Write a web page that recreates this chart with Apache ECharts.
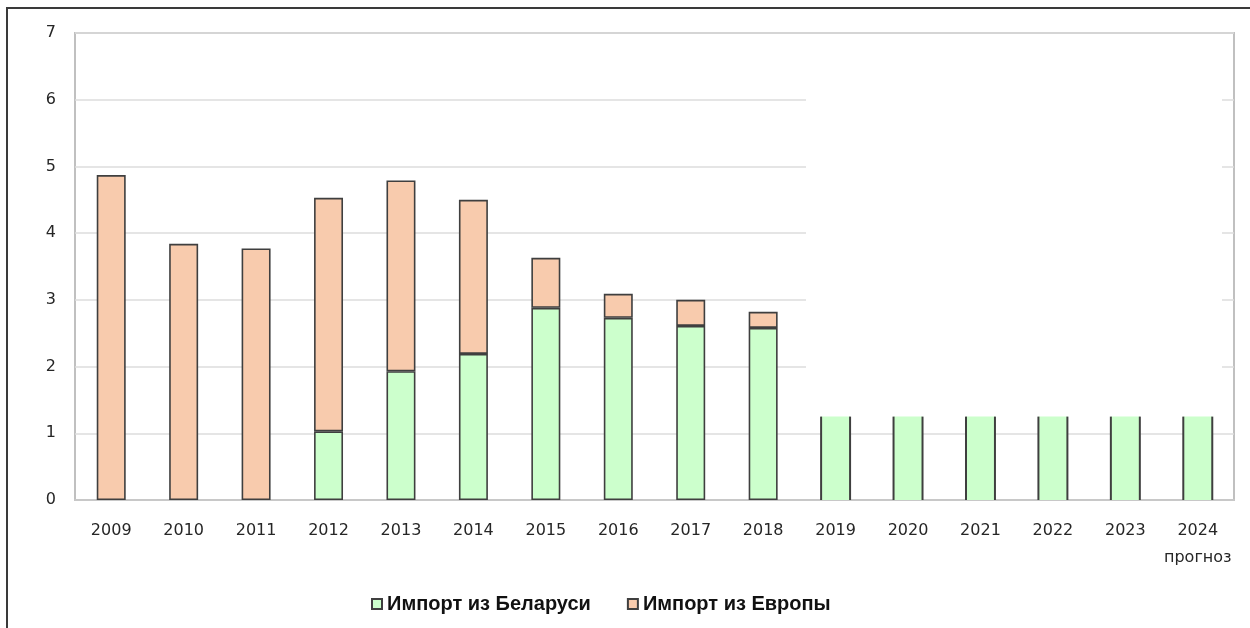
<!DOCTYPE html>
<html>
<head>
<meta charset="utf-8">
<script src="https://cdn.jsdelivr.net/npm/echarts@6/dist/echarts.min.js"></script>
<style>
  html, body { margin: 0; padding: 0; background: #fff; overflow: hidden; }
  #frame {
    position: absolute; left: 6px; top: 7px;
    width: 1400px; height: 800px;
    border: 2px solid #3a3a3a;
  }
  #chart { position: absolute; left: 0; top: 0; width: 1250px; height: 628px; }
</style>
</head>
<body>
<div id="frame"></div>
<div id="chart"></div>
<script>
// Импорт: Беларусь + Европа, столбцы с накоплением; 2019-2024 — прогноз
const years = ['2009', '2010', '2011', '2012', '2013', '2014', '2015', '2016',
  '2017', '2018', '2019', '2020', '2021', '2022', '2023', '2024'];
const yearLabels = years.map(y => (y === '2024' ? '2024\nпрогноз' : y));
const belarus = [0, 0, 0, 1.03, 1.93, 2.19, 2.88, 2.73, 2.61, 2.58,
  1.25, 1.25, 1.25, 1.25, 1.25, 1.25];
const europe = [4.87, 3.84, 3.77, 3.50, 2.86, 2.31, 0.75, 0.36, 0.39, 0.24,
  0, 0, 0, 0, 0, 0];
const FORECAST_FROM = 10; // index of 2019

const GREEN = '#ccffcc';
const PEACH = '#f8cbad';
const EDGE = '#3f3f3f';
const BAR_FRAC = 0.4;

const chart = echarts.init(document.getElementById('chart'), null, { renderer: 'canvas' });

const belarusData = belarus.map((v, i) => (i >= FORECAST_FROM
  ? { value: v, itemStyle: { borderWidth: 0 } }
  : (v > 0 ? v : null)));
const europeData = europe.map(v => (v > 0 ? v : null));
const edgeData = belarus.map((v, i) => [i, v]).filter(d => d[0] >= FORECAST_FROM);

chart.setOption({
  backgroundColor: 'transparent',
  animation: false,
  grid: {
    left: 75, right: 16, top: 33, bottom: 128,
    show: true, borderColor: '#c0c0c0', borderWidth: 2,
  },
  legend: {
    data: ['Импорт из Беларуси', 'Импорт из Европы'],
    top: 589,
    left: 366,
    itemWidth: 10,
    itemHeight: 10,
    itemGap: 36,
    icon: 'rect',
    textStyle: { fontFamily: 'Liberation Sans', fontWeight: 'bold', fontSize: 20, color: '#111' },
  },
  xAxis: {
    type: 'category',
    data: yearLabels,
    axisLine: { lineStyle: { color: '#c8c8c8', width: 2 } },
    axisTick: { show: false },
    axisLabel: {
      color: '#262626', fontFamily: 'DejaVu Sans', fontSize: 16, margin: 17,
      lineHeight: 27, interval: 0,
    },
  },
  yAxis: {
    type: 'value',
    min: 0, max: 7, interval: 1,
    axisLine: { show: false },
    axisTick: { show: false },
    axisLabel: { color: '#262626', fontFamily: 'DejaVu Sans', fontSize: 16, margin: 19 },
    splitLine: { lineStyle: { color: '#dcdcdc', width: 1.5 } },
  },
  series: [
    {
      name: 'Импорт из Беларуси',
      type: 'bar',
      stack: 'import',
      barWidth: (BAR_FRAC * 100) + '%',
      data: belarusData,
      itemStyle: { color: GREEN, borderColor: EDGE, borderWidth: 1.6 },
    },
    {
      name: 'Импорт из Европы',
      type: 'bar',
      stack: 'import',
      data: europeData,
      itemStyle: { color: PEACH, borderColor: EDGE, borderWidth: 1.6 },
    },
    {
      // forecast bars have side edges only
      type: 'custom',
      data: edgeData,
      z: 3,
      renderItem: (params, api) => {
        const top = api.coord([api.value(0), api.value(1)]);
        const base = api.coord([api.value(0), 0]);
        const half = api.size([1, 0])[0] * BAR_FRAC / 2;
        const style = { stroke: EDGE, lineWidth: 2 };
        return {
          type: 'group',
          children: [
            { type: 'line', shape: { x1: top[0] - half, y1: top[1], x2: top[0] - half, y2: base[1] }, style },
            { type: 'line', shape: { x1: top[0] + half, y1: top[1], x2: top[0] + half, y2: base[1] }, style },
          ],
        };
      },
    },
  ],
  graphic: [
    // blank patch over the upper gridlines on the right side
    { type: 'rect', z: 100, shape: { x: 806, y: 45, width: 416, height: 345 }, style: { fill: '#fff' } },
  ],
});
</script>
</body>
</html>
